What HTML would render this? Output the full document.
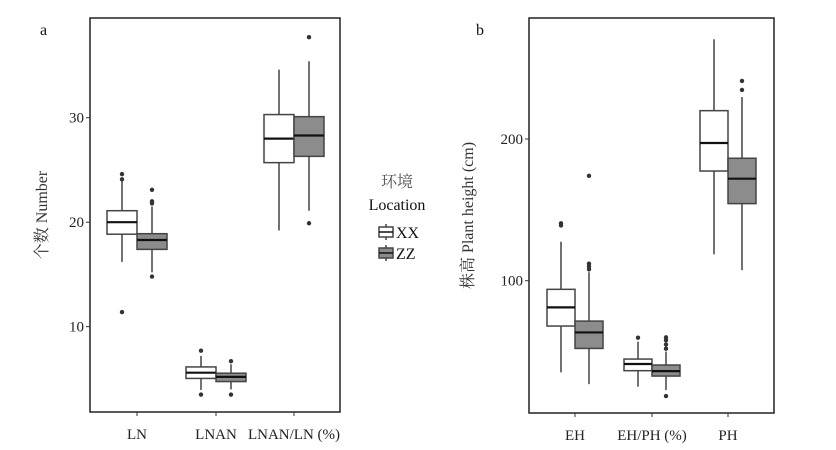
<!DOCTYPE html>
<html><head><meta charset="utf-8"><style>
body{margin:0;background:#fff;}
svg{display:block;font-family:"Liberation Serif","Noto Serif CJK SC",serif;}
</style></head><body>
<svg id="c" width="836" height="450"></svg>
<script>
// Panel a data
const catsA = ["LN","LNAN","LNAN/LN (%)"];
const ticksA = [10,20,30];
const xxA = [[16.2,18.85,20,21.1,24.0],[3.95,5.05,5.6,6.15,7.2],[19.2,25.7,28.0,30.3,34.6]];
const zzA = [[15.2,17.4,18.3,18.9,21.5],[4.0,4.75,5.2,5.55,6.4],[21.1,26.3,28.3,30.1,35.4]];
const xxAout = [[24.6,24.1,11.4],[7.7,3.5],[]];
const zzAout = [[23.1,22.0,21.8,14.8],[6.7,3.5],[37.7,19.9]];
// Panel b data
const catsB = ["EH","EH/PH (%)","PH"];
const ticksB = [100,200];
const xxB = [[35.3,68,81.2,93.9,127.5],[25.2,36.5,41.2,44.7,57],[118.6,177.4,197.2,220,270.4]];
const zzB = [[27,52.2,63.5,71.5,106],[22.8,32.7,36.2,40.5,50],[107.5,154.4,172,186.4,229.6]];
const xxBout = [[139,140.5],[59.8],[]];
const zzBout = [[108,110,112,174],[52,55,58,60,18.6],[241,234.6]];

const svg=document.getElementById('c');
const NS='http://www.w3.org/2000/svg';
function mk(tag,attrs,parent){const e=document.createElementNS(NS,tag);for(const k in attrs)e.setAttribute(k,attrs[k]);(parent||svg).appendChild(e);return e;}

function panel(p){
  const g=mk('g',{});
  
  
  const y=v=>p.y0+(v-p.v0)*(p.y1-p.y0)/(p.v1-p.v0);
  const fr=mk('rect',{x:p.left,y:p.top,width:p.right-p.left,height:p.bottom-p.top,fill:'none',stroke:'#222','stroke-width':1.5},g);
  
  
  p.ticks.forEach(t=>{
    const ty=y(t);
    mk('line',{x1:p.left-4,x2:p.left,y1:ty,y2:ty,stroke:'#333'},g);
    const tx=mk('text',{x:p.left-6,y:ty+5,'text-anchor':'end','font-size':15,fill:'#222'},g);
    tx.textContent=t;
    
    
  });
  p.cats.forEach((c,i)=>{
    const cx=p.cx[i];
    mk('line',{x1:cx,x2:cx,y1:p.bottom,y2:p.bottom+4,stroke:'#333'},g);
    const tx=mk('text',{x:cx,y:p.bottom+27,'text-anchor':'middle','font-size':15,fill:'#222'},g);
    tx.textContent=c;
    
    
    [[p.xx,p.xxo,'#fff',-1],[p.zz,p.zzo,'#8c8c8c',1]].forEach(([d,o,fill,s])=>{
      const st=d[i];const bx=s<0?cx-p.bw:cx;const mx=bx+p.bw/2;
      const w=mk('line',{x1:mx,x2:mx,y1:y(st[0]),y2:y(st[4]),stroke:'#444','stroke-width':1.5},g);
      
      
      const r=mk('rect',{x:bx,y:y(st[3]),width:p.bw,height:y(st[1])-y(st[3]),fill:fill,stroke:'#444','stroke-width':1.5},g);
      
      
      mk('line',{x1:bx,x2:bx+p.bw,y1:y(st[2]),y2:y(st[2]),stroke:'#111','stroke-width':2.2},g);
      o[i].forEach(v=>{
        const pt=mk('circle',{cx:mx,cy:y(v),r:2.2,fill:'#333'},g);
        
        
      });
    });
  });
  const yt=mk('text',{x:0,y:0,'text-anchor':'middle','font-size':16,fill:'#333',transform:`translate(${p.ytx},${(p.top+p.bottom)/2}) rotate(-90)`},g);
  yt.textContent=p.ytitle;
  
  
  const lb=mk('text',{x:p.lx,y:35,'font-size':16,fill:'#111'},g);
  lb.textContent=p.label;
  
  
}
panel({name:'panel-a',left:90,right:340,top:18,bottom:412,v0:10,v1:30,y0:326.7,y1:117.7,
  ticks:ticksA,cats:catsA,cx:[137,216,294],bw:30,xx:xxA,zz:zzA,xxo:xxAout,zzo:zzAout,
  ytitle:'个数 Number',ytx:47,label:'a',lx:40});
panel({name:'panel-b',left:529,right:774,top:18,bottom:413,v0:100,v1:200,y0:280.7,y1:139,
  ticks:ticksB,cats:catsB,cx:[575,652,728],bw:28,xx:xxB,zz:zzB,xxo:xxBout,zzo:zzBout,
  ytitle:'株高 Plant height (cm)',ytx:473,label:'b',lx:476});

// legend
const lg=mk('g',{});


const t1=mk('text',{x:397,y:187,'text-anchor':'middle','font-size':16,fill:'#555'},lg);t1.textContent='环境';
const t2=mk('text',{x:397,y:210,'text-anchor':'middle','font-size':16,fill:'#111'},lg);t2.textContent='Location';
[['XX','#fff',232],['ZZ','#8c8c8c',253]].forEach(([n,f,cy])=>{
  const e=mk('g',{},lg);
  
  
  mk('line',{x1:386,x2:386,y1:cy-8,y2:cy+8,stroke:'#444','stroke-width':1.5},e);
  mk('rect',{x:379,y:cy-5,width:14,height:10,fill:f,stroke:'#444','stroke-width':1.5},e);
  mk('line',{x1:379,x2:393,y1:cy,y2:cy,stroke:'#111','stroke-width':1.5},e);
  const t=mk('text',{x:396,y:cy+6,'font-size':16,fill:'#111'},e);t.textContent=n;
});
</script>
</body></html>
